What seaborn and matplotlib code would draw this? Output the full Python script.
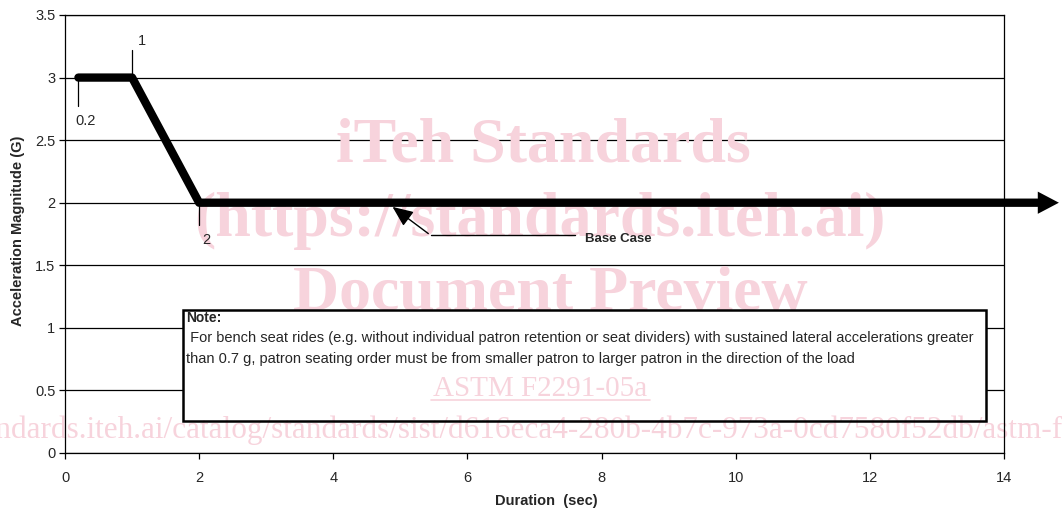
import matplotlib
matplotlib.use("Agg")
import matplotlib.pyplot as plt
import seaborn as sns
import pandas as pd
from matplotlib.patches import Rectangle

# ---- data ----
duration = [0.2, 1.0, 2.0, 14.5]
accel = [3.0, 3.0, 2.0, 2.0]
point_labels = ["0.2", "1", "2"]
x_ticks = [0, 2, 4, 6, 8, 10, 12, 14]
y_ticks = [0, 0.5, 1, 1.5, 2, 2.5, 3, 3.5]
note_title = "Note:"
note_lines = [
    " For bench seat rides (e.g. without individual patron retention or seat dividers) with sustained lateral accelerations greater",
    "than 0.7 g, patron seating order must be from smaller patron to larger patron in the direction of the load",
]
series_label = "Base Case"
watermark = ["iTeh Standards", "(https://standards.iteh.ai)", "Document Preview"]
wm_small = "ASTM F2291-05a"
wm_url = "https://standards.iteh.ai/catalog/standards/sist/d616eca4-280b-4b7c-973a-0cd7580f52db/astm-f2291-05a"

df = pd.DataFrame({"Duration": duration, "Accel": accel})

sns.set_theme(style="white")
plt.rcParams["font.family"] = ["Liberation Sans", "DejaVu Sans"]

W, H = 1062, 514
AX_L, AX_R, AX_T, AX_B = 65, 1004, 15, 453
fig = plt.figure(figsize=(W / 100, H / 100), dpi=100)
ax = fig.add_axes([AX_L / W, 1 - AX_B / H, (AX_R - AX_L) / W, (AX_B - AX_T) / H])
ax.set_facecolor("none")

# watermark (above box fill, below black marks)
pink = "#f7d3dc"
serif = ["Liberation Serif", "DejaVu Serif"]
def wtxt(px, py, s, **kw):
    return ax.text(px / W, 1 - py / H, s, color=pink, zorder=3, transform=fig.transFigure,
                   clip_on=False, family=serif, **kw)

wtxt(543, 162, watermark[0], ha="center", va="baseline", fontsize=46, fontweight="bold")
wtxt(540, 236, watermark[1], ha="center", va="baseline", fontsize=46, fontweight="bold")
wtxt(550, 310, watermark[2], ha="center", va="baseline", fontsize=46, fontweight="bold")
wtxt(540, 396, wm_small, ha="center", va="baseline", fontsize=21)
ax.plot([431 / W, 650 / W], [1 - 400 / H, 1 - 400 / H], color=pink, lw=1.2,
        transform=fig.transFigure, clip_on=False, zorder=3)
wtxt(528, 438, wm_url, ha="center", va="baseline", fontsize=22.5)

# grid lines
for yv in y_ticks:
    ax.axhline(yv, color="black", lw=0.9, zorder=1)

sns.lineplot(data=df, x="Duration", y="Accel", sort=False, color="black",
             linewidth=6, ax=ax, solid_capstyle="round", clip_on=False, zorder=5)
ax.annotate("", xy=(14.86, accel[-1]), xytext=(14.45, accel[-1]),
            arrowprops=dict(arrowstyle="-|>,head_length=0.38,head_width=0.2", color="black",
                            lw=0, mutation_scale=40),
            annotation_clip=False, zorder=6)

# point labels with leader lines
ax.plot([duration[0], duration[0]], [accel[0], 2.77], color="black", lw=0.9, zorder=4)
ax.text(duration[0] - 0.05, 2.65, point_labels[0], fontsize=10.5, ha="left", va="center")
ax.plot([duration[1], duration[1]], [accel[1], 3.22], color="black", lw=0.9, zorder=4)
ax.text(duration[1] + 0.08, 3.29, point_labels[1], fontsize=10.5, ha="left", va="center")
ax.plot([duration[2], duration[2]], [accel[2], 1.82], color="black", lw=0.9, zorder=4)
ax.text(duration[2] + 0.05, 1.70, point_labels[2], fontsize=10.5, ha="left", va="center")

# Base Case callout
ax.annotate("", xy=(4.85, 1.98), xytext=(5.45, 1.74),
            arrowprops=dict(arrowstyle="-|>,head_length=0.7,head_width=0.3", color="black",
                            lw=1.0, mutation_scale=18), zorder=6)
ax.plot([5.45, 7.6], [1.74, 1.74], color="black", lw=1.0, zorder=6)
ax.text(7.75, 1.71, series_label, fontsize=9.5, fontweight="bold", ha="left", va="center", zorder=6)

# note box
bx, by, bw, bh = 1.76, 0.255, 11.97, 0.888
ax.add_patch(Rectangle((bx, by), bw, bh, facecolor="white", edgecolor="none", zorder=2))
ax.add_patch(Rectangle((bx, by), bw, bh, facecolor="none", edgecolor="black", lw=1.8, zorder=6))
ax.text(1.81, 1.079, note_title, fontsize=10, fontweight="bold", ha="left", va="center", zorder=8)
ax.text(1.81, 0.919, note_lines[0], fontsize=10.5, ha="left", va="center", zorder=8)
ax.text(1.81, 0.752, note_lines[1], fontsize=10.5, ha="left", va="center", zorder=8)

ax.set_xlim(0, 14)
ax.set_ylim(0, 3.5)
ax.set_xticks(x_ticks)
ax.set_yticks(y_ticks)
ax.set_xticklabels([str(v) for v in x_ticks], fontsize=10.5)
ax.set_yticklabels([f"{v:g}" for v in y_ticks], fontsize=10.5)
ax.tick_params(axis="both", direction="out", length=4, width=0.9, color="black",
               bottom=True, left=True)
ax.tick_params(axis="x", pad=9)
ax.tick_params(axis="y", pad=3)
for s in ax.spines.values():
    s.set_color("black")
    s.set_linewidth(0.9)
    s.set_zorder(4)

axw, axh = AX_R - AX_L, AX_B - AX_T
ax.set_xlabel("Duration  (sec)", fontsize=10.5, fontweight="bold", va="center")
ax.xaxis.set_label_coords((546 - AX_L) / axw, (AX_B - 501) / axh)
ax.set_ylabel("Acceleration Magnitude (G)", fontsize=10.5, fontweight="bold", va="center")
ax.yaxis.set_label_coords((18 - AX_L) / axw, (AX_B - 231) / axh)

fig.savefig("out.png", dpi=100)
